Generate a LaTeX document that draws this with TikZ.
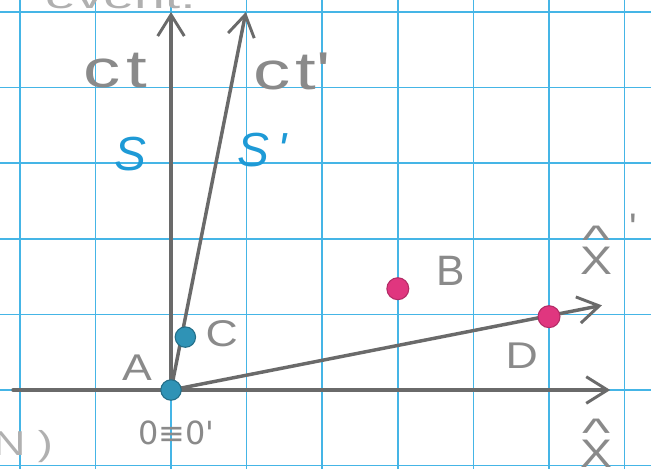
\documentclass[tikz,border=0pt]{standalone}
\usepackage{fontspec}
\usepackage{graphicx}
\setmainfont{Liberation Sans}
\newfontfamily\dvsans{DejaVu Sans}
\usetikzlibrary{arrows.meta}
\definecolor{gridblue}{HTML}{45B5E6}
\definecolor{pencil}{HTML}{6A6A6A}
\definecolor{pencillight}{HTML}{8A8A8A}
\definecolor{pencilfaint}{HTML}{B0B0B0}
\definecolor{inkblue}{HTML}{1E9AD6}
\definecolor{dotteal}{HTML}{2F93B6}
\definecolor{dotpink}{HTML}{E0367F}
\begin{document}
\begin{tikzpicture}[x=1cm,y=1cm,
  gridline/.style={gridblue,line width=0.6pt},
  axis/.style={pencil,line width=1.3pt,line cap=round,
    -{Straight Barb[length=8pt,width=10pt,line width=1.1pt]}},
  lbl/.style={text=pencillight,inner sep=0pt,font=\fontsize{14}{16}\selectfont},
  axlbl/.style={text=pencillight,inner sep=0pt,font=\fontsize{20}{22}\selectfont},
  slbl/.style={text=inkblue,inner sep=0pt,font=\fontsize{18}{20}\selectfont\itshape},
  faint/.style={text=pencilfaint,inner sep=0pt,font=\fontsize{13}{15}\selectfont},
  tealdot/.style={circle,fill=dotteal,draw=dotteal!75!black,line width=0.4pt,
    minimum size=0.27cm,inner sep=0pt},
  pinkdot/.style={circle,fill=dotpink,draw=dotpink!80!black,line width=0.4pt,
    minimum size=0.29cm,inner sep=0pt}
]
\useasboundingbox (-2.262,-1.032) rectangle (6.349,5.159);
\clip (-2.262,-1.032) rectangle (6.349,5.159);
\fill[white] (-2.262,-1.032) rectangle (6.349,5.159);
% grid paper
\foreach \gx in {-2,...,6} \draw[gridline] (\gx,-1.1) -- (\gx,5.2);
\foreach \gy in {-1,...,5} \draw[gridline] (-2.3,\gy) -- (6.4,\gy);
% fragments of other writing, cut by the page edge
\node[faint,anchor=base] (frtop) at (-0.67,5.04) {\scalebox{1.6}[1]{event.}};
\node[faint,anchor=base west] (frbot) at (-2.36,-0.86) {\scalebox{1.3}[1]{N )}};
% axes
\coordinate (O) at (0,0);
\coordinate (xstart) at (-2.09,0);
\coordinate (xtip) at (5.81,0);
\coordinate (cttip) at (0,5.0);
\coordinate (ctptip) at (0.99,5.0);
\coordinate (xptip) at (5.70,1.12);
\draw[axis] (xstart) -- (xtip);
\draw[axis] (O) -- (cttip);
\draw[axis] (O) -- (ctptip);
\draw[axis] (O) -- (xptip);
% events
\node[tealdot] (A) at (O) {};
\node[tealdot] (C) at (0.19,0.70) {};
\node[pinkdot] (B) at (3.0,1.34) {};
\node[pinkdot] (D) at (5.0,0.97) {};
% labels
\node[axlbl] (lct) at (-0.74,4.23) {\scalebox{1.4}[1]{c\kern1.5pt t}};
\node[axlbl] (lctp) at (1.60,4.21) {\scalebox{1.4}[1]{c\kern1.5pt t\textquotesingle}};
\node[slbl] (lS) at (-0.53,3.12) {S};
\node[slbl] (lSp) at (1.20,3.17) {S\,\textquotesingle};
\node[lbl] (lA) at (-0.45,0.29) {\scalebox{1.2}[1]{A}};
\node[lbl] (lC) at (0.67,0.74) {\scalebox{1.2}[1]{C}};
\node[lbl,font=\fontsize{16}{18}\selectfont] (lB) at (3.70,1.57) {B};
\node[lbl] (lD) at (4.64,0.46) {\scalebox{1.2}[1]{D}};
\node[lbl,align=center,font=\fontsize{15}{15}\selectfont] (lxp) at (5.63,1.85)
  {\scalebox{1.5}[1]{\textasciicircum}\\[-7pt]\scalebox{1.2}[1]{X}};
\node[lbl,font=\fontsize{15}{17}\selectfont] (lxpp) at (6.12,2.14) {\textquotesingle};
\node[lbl,align=center,font=\fontsize{15}{15}\selectfont] (lx) at (5.63,-0.70)
  {\scalebox{1.5}[1]{\textasciicircum}\\[-7pt]\scalebox{1.2}[1]{X}};
\node[lbl,font=\dvsans\fontsize{12}{14}\selectfont] (lO) at (0.07,-0.57) {0≡0\textquotesingle};
\end{tikzpicture}
\end{document}
